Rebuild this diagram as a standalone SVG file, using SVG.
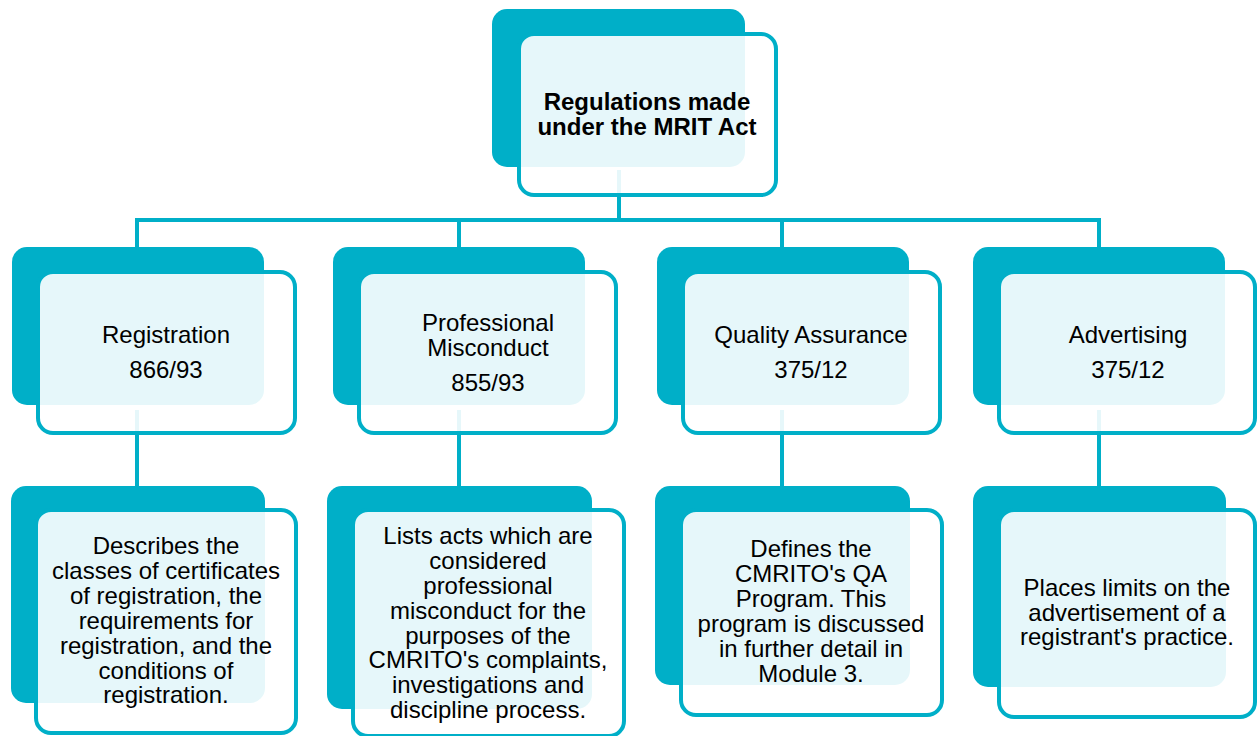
<svg xmlns="http://www.w3.org/2000/svg" width="1258" height="736" viewBox="0 0 1258 736">
  <style>
    .back { fill: #00AFC8; }
    .front { fill: #FFFFFF; fill-opacity: 0.9; stroke: #00AFC8; stroke-width: 4; }
    .link { stroke: #00AFC8; stroke-width: 4; fill: none; }
    text { font-family: "Liberation Sans", Arial, sans-serif; font-size: 24px; fill: #000; text-anchor: middle; }
    .bold { font-weight: bold; }
  </style>
  <rect width="1258" height="736" fill="#FFFFFF"/>

  <!-- connectors sit behind the nodes -->
  <g id="connectors">
    <line class="link" x1="619" y1="170" x2="619" y2="220"/>
    <line class="link" x1="135" y1="220" x2="1101" y2="220"/>
    <line class="link" x1="137" y1="220" x2="137" y2="249"/>
    <line class="link" x1="459" y1="220" x2="459" y2="249"/>
    <line class="link" x1="782" y1="220" x2="782" y2="249"/>
    <line class="link" x1="1099" y1="220" x2="1099" y2="249"/>
    <line class="link" x1="137" y1="410" x2="137" y2="488"/>
    <line class="link" x1="459" y1="410" x2="459" y2="488"/>
    <line class="link" x1="782" y1="410" x2="782" y2="488"/>
    <line class="link" x1="1099" y1="410" x2="1099" y2="488"/>
  </g>

  <!-- root -->
  <g id="node-root">
    <rect class="back" x="492" y="9" width="253" height="158" rx="15"/>
    <rect class="front" x="519" y="34" width="257" height="161" rx="15"/>
    <text class="bold" x="647" y="110">Regulations made</text>
    <text class="bold" x="647" y="135">under the MRIT Act</text>
  </g>

  <!-- second level -->
  <g id="node-registration">
    <rect class="back" x="12" y="247" width="252" height="158" rx="15"/>
    <rect class="front" x="38" y="272" width="257" height="161" rx="15"/>
    <text x="166" y="343">Registration</text>
    <text x="166" y="378">866/93</text>
  </g>
  <g id="node-misconduct">
    <rect class="back" x="333" y="247" width="252" height="158" rx="15"/>
    <rect class="front" x="359" y="272" width="257" height="161" rx="15"/>
    <text x="488" y="331">Professional</text>
    <text x="488" y="356">Misconduct</text>
    <text x="488" y="391">855/93</text>
  </g>
  <g id="node-quality">
    <rect class="back" x="657" y="247" width="252" height="158" rx="15"/>
    <rect class="front" x="683" y="272" width="257" height="161" rx="15"/>
    <text x="811" y="343">Quality Assurance</text>
    <text x="811" y="378">375/12</text>
  </g>
  <g id="node-advertising">
    <rect class="back" x="973" y="247" width="252" height="158" rx="15"/>
    <rect class="front" x="999" y="272" width="256" height="161" rx="15"/>
    <text x="1128" y="343">Advertising</text>
    <text x="1128" y="378">375/12</text>
  </g>

  <!-- third level -->
  <g id="node-registration-desc">
    <rect class="back" x="11" y="486" width="254" height="217" rx="15"/>
    <rect class="front" x="36" y="510" width="260" height="223" rx="15"/>
    <text x="166" y="554">Describes the</text>
    <text x="166" y="579">classes of certificates</text>
    <text x="166" y="604">of registration, the</text>
    <text x="166" y="629">requirements for</text>
    <text x="166" y="654">registration, and the</text>
    <text x="166" y="679">conditions of</text>
    <text x="166" y="703">registration.</text>
  </g>
  <g id="node-misconduct-desc">
    <rect class="back" x="327" y="486" width="265" height="223" rx="15"/>
    <rect class="front" x="353" y="510" width="271" height="226" rx="15"/>
    <text x="488" y="544">Lists acts which are</text>
    <text x="488" y="569">considered</text>
    <text x="488" y="594">professional</text>
    <text x="488" y="619">misconduct for the</text>
    <text x="488" y="644">purposes of the</text>
    <text x="488" y="668">CMRITO's complaints,</text>
    <text x="488" y="693">investigations and</text>
    <text x="488" y="718">discipline process.</text>
  </g>
  <g id="node-quality-desc">
    <rect class="back" x="655" y="486" width="255" height="199" rx="15"/>
    <rect class="front" x="681" y="510" width="261" height="205" rx="15"/>
    <text x="811" y="557">Defines the</text>
    <text x="811" y="582">CMRITO's QA</text>
    <text x="811" y="607">Program. This</text>
    <text x="811" y="632">program is discussed</text>
    <text x="811" y="657">in further detail in</text>
    <text x="811" y="682">Module 3.</text>
  </g>
  <g id="node-advertising-desc">
    <rect class="back" x="973" y="486" width="253" height="201" rx="15"/>
    <rect class="front" x="999" y="510" width="256" height="207" rx="15"/>
    <text x="1127" y="596">Places limits on the</text>
    <text x="1127" y="621">advertisement of a</text>
    <text x="1127" y="645">registrant's practice.</text>
  </g>
</svg>
